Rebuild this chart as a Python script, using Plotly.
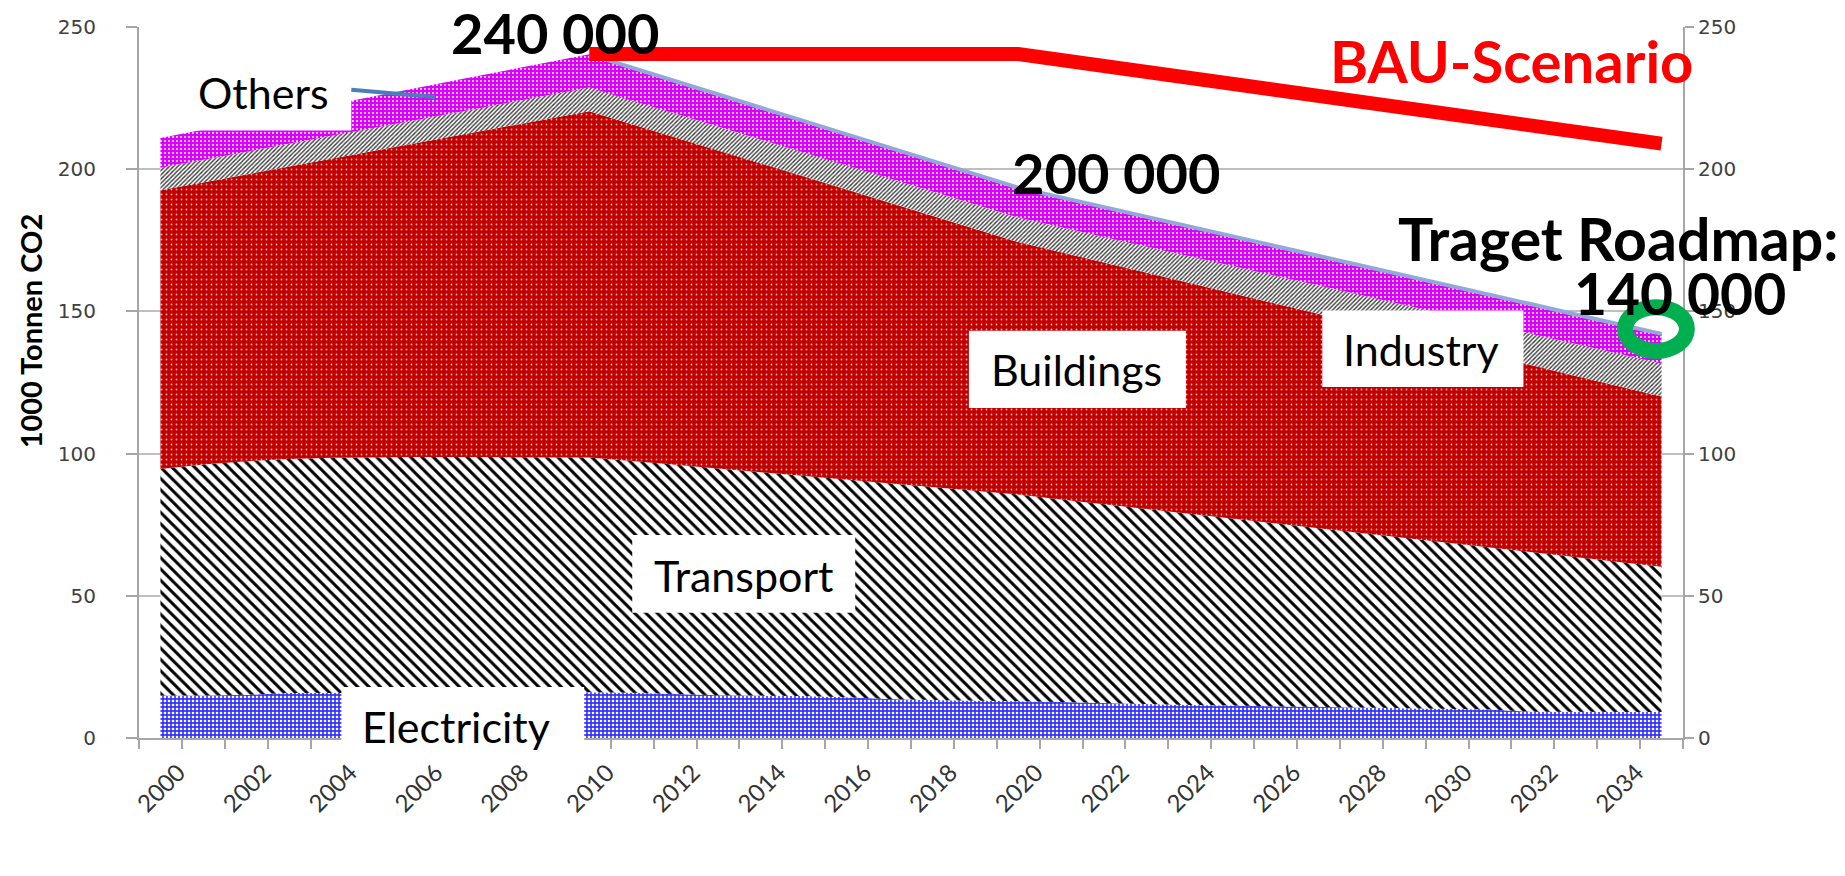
import plotly.graph_objects as go

# ---------------- data ----------------
years = list(range(2000, 2036))
electricity = [14.9, 14.9, 15.2, 15.8, 15.8, 15.9, 15.9, 15.9, 16.0, 16.0,
               16.1, 15.9, 15.5, 15.0, 14.9, 14.8, 14.3, 13.7, 13.4, 13.2,
               13.1, 12.7, 12.3, 11.9, 11.6, 11.4, 11.1, 10.9, 10.7, 10.5,
               10.3, 10.0, 9.2, 9.1, 9.1, 9.1]
transport = [79.7, 81.3, 82.1, 82.3, 82.7, 82.8, 82.9, 82.9, 82.8, 82.8,
             82.5, 81.5, 80.6, 79.8, 78.6, 77.4, 76.6, 75.9, 74.8, 73.7,
             72.5, 71.2, 69.9, 68.6, 67.2, 65.7, 64.3, 62.8, 61.3, 59.8,
             58.3, 56.9, 56.0, 54.4, 52.7, 51.1]
buildings = [98.0, 99.2, 100.9, 102.8, 105.2, 107.8, 110.5, 113.3, 116.0, 118.8,
             121.8, 118.4, 115.1, 111.8, 108.5, 105.2, 101.9, 98.6, 95.4, 92.1,
             88.8, 86.9, 85.0, 83.0, 81.1, 79.2, 77.3, 75.4, 73.4, 71.5,
             69.6, 67.7, 65.8, 63.8, 61.9, 59.9]
industry = [7.9, 7.9, 8.0, 8.0, 8.0, 8.1, 8.1, 8.2, 8.2, 8.3,
            8.3, 8.3, 8.4, 8.4, 8.4, 8.5, 8.5, 8.5, 8.6, 8.6,
            8.6, 8.8, 9.0, 9.2, 9.4, 9.6, 9.8, 10.0, 10.2, 10.4,
            10.6, 10.8, 11.0, 11.2, 11.4, 11.6]
others = [10.5, 10.6, 10.7, 10.9, 11.0, 11.1, 11.2, 11.3, 11.5, 11.6,
          11.7, 11.6, 11.5, 11.4, 11.2, 11.1, 11.0, 10.9, 10.7, 10.6,
          10.5, 10.5, 10.5, 10.5, 10.5, 10.5, 10.5, 10.4, 10.4, 10.4,
          10.4, 10.4, 10.4, 10.4, 10.4, 10.4]
roadmap_start_year = 2010
bau_years = [2010, 2020, 2035]
bau_values = [240.5, 240.5, 209.0]
tick_years = years[::2]
tick_labels = [str(y) for y in tick_years]
y_ticks = [0, 50, 100, 150, 200, 250]

# ---------------- helpers ----------------
X0, X1 = 1999.5, 2035.5
Y0, Y1 = 0, 250


def px(year):
    return (year - X0) / (X1 - X0)


def py(v):
    return (v - Y0) / (Y1 - Y0)


totals = [e + t + b + i + o for e, t, b, i, o in zip(electricity, transport, buildings, industry, others)]
road_x = [y for y in years if y >= roadmap_start_year]
road_y = [tot for y, tot in zip(years, totals) if y >= roadmap_start_year]

fig = go.Figure()


def area(name, vals, pattern):
    fig.add_trace(go.Scatter(
        x=years, y=vals, name=name, mode="lines", stackgroup="one",
        line=dict(width=0), fillcolor=pattern["bgcolor"],
        fillpattern=pattern, hoverinfo="skip", showlegend=False))


area("Electricity", electricity, dict(shape=".", bgcolor="#3434FF", fgcolor="#FFFFFF",
                                      size=4, solidity=0.35, fillmode="replace"))
area("Transport", transport, dict(shape="\\", bgcolor="#FFFFFF", fgcolor="#000000",
                                  size=8, solidity=0.38, fillmode="replace"))
area("Buildings", buildings, dict(shape=".", bgcolor="#C00000", fgcolor="#FFB8B8",
                                  size=5, solidity=0.1, fillmode="replace"))
area("Industry", industry, dict(shape="/", bgcolor="#FFFFFF", fgcolor="#3A3A3A",
                                size=3, solidity=0.45, fillmode="replace"))
area("Others", others, dict(shape=".", bgcolor="#DD00FF", fgcolor="#FFFFFF",
                            size=4, solidity=0.2, fillmode="replace"))

fig.add_trace(go.Scatter(x=road_x, y=road_y, mode="lines", yaxis="y2",
                         line=dict(color="#93A8D6", width=4), showlegend=False,
                         hoverinfo="skip"))
fig.add_trace(go.Scatter(x=bau_years, y=bau_values, mode="lines", yaxis="y2",
                         line=dict(color="#FF0000", width=14), showlegend=False,
                         hoverinfo="skip"))

# ---------------- shapes ----------------
shapes = []


def white_box(x0, x1, y0, y1):
    shapes.append(dict(type="rect", xref="paper", yref="paper", layer="above",
                       x0=px(x0), x1=px(x1), y0=py(y0), y1=py(y1),
                       fillcolor="white", line=dict(width=0)))


white_box(2000.3, 2004.45, 213.6, 238.0)   # Others
white_box(2004.22, 2009.88, -3.9, 17.9)    # Electricity
white_box(2011.0, 2016.2, 44.0, 71.4)      # Transport
white_box(2018.85, 2023.91, 116.0, 143.2)  # Buildings
white_box(2027.09, 2031.78, 123.4, 150.3)  # Industry

shapes.append(dict(type="line", xref="paper", yref="paper", layer="above",
                   x0=px(2004.45), y0=py(227.9), x1=px(2006.4), y1=py(225.4),
                   line=dict(color="#4A7EBB", width=4)))
shapes.append(dict(type="circle", xref="paper", yref="paper", layer="above",
                   x0=px(2034.15), x1=px(2035.59), y0=py(136.1), y1=py(151.5),
                   line=dict(color="#00B050", width=16)))

# ---------------- annotations ----------------
ann = []


def label(text, x, y, size, color="black", bold=False, xanchor="center", angle=0, family="Lato"):
    ann.append(dict(text=("<b>%s</b>" % text) if bold else text, xref="paper", yref="paper",
                    x=px(x), y=py(y), xanchor=xanchor, yanchor="middle", showarrow=False,
                    textangle=angle, font=dict(family=family, size=size, color=color)))


label("Others", 2002.4, 227.1, 43)
label("Electricity", 2006.9, 4.2, 43)
label("Transport", 2013.6, 57.0, 43)
label("Buildings", 2021.35, 129.6, 43)
label("Industry", 2029.4, 136.6, 43)
label("240 000", 2009.2, 247.9, 56, bold=True)
label("200 000", 2022.3, 199.0, 56, bold=True)
label("BAU-Scenario", 2031.5, 238.3, 58, color="#FF0000", bold=True)
label("Traget Roadmap:", 2039.16, 175.5, 59, bold=True, xanchor="right")
label("140 000", 2037.95, 156.5, 57, bold=True, xanchor="right")
label("1000 Tonnen CO2", 1996.96, 143.0, 29, bold=True, angle=-90)

axis_grey = "#A6A6A6"
fig.update_layout(
    width=1845, height=876,
    margin=dict(l=139, r=162, t=27, b=138),
    paper_bgcolor="white", plot_bgcolor="white",
    showlegend=False,
    shapes=shapes, annotations=ann,
    xaxis=dict(range=[X0, X1], tickmode="array", tickvals=tick_years, ticktext=tick_labels,
               tickangle=-45, ticks="outside", ticklen=9, tickcolor="rgba(0,0,0,0)",
               ticklabelshift=18,
               showgrid=False, zeroline=False, showline=True, linecolor=axis_grey, linewidth=2,
               tickfont=dict(family="Lato", size=24, color="#333333"),
               minor=dict(ticks="outside", tickmode="array",
                          tickvals=[y - 0.5 for y in years] + [years[-1] + 0.5],
                          ticklen=9, tickcolor=axis_grey, tickwidth=1.5, showgrid=False)),
    yaxis=dict(range=[Y0, Y1], tickmode="array", tickvals=y_ticks,
               ticks="outside", ticklen=11, tickcolor=axis_grey, tickwidth=1.5,
               ticklabelstandoff=26,
               showgrid=True, gridcolor="#BFBFBF", gridwidth=1.5, zeroline=False,
               showline=True, linecolor=axis_grey, linewidth=2,
               tickfont=dict(family="DejaVu Sans", size=20, color="#404040")),
    yaxis2=dict(range=[Y0, Y1], overlaying="y", side="right", tickmode="array", tickvals=y_ticks,
                ticks="outside", ticklen=9, tickcolor=axis_grey, tickwidth=1.5,
                showgrid=False, zeroline=False, showline=True, linecolor=axis_grey, linewidth=2,
                tickfont=dict(family="DejaVu Sans", size=20, color="#404040")),
)

fig.write_html("out.html", config={"displayModeBar": False},
               post_script="document.body.style.margin='0';")
